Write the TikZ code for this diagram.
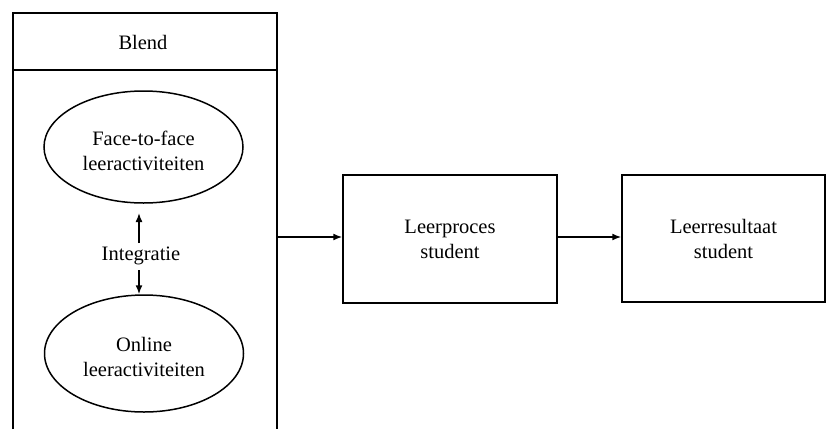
\documentclass[tikz,border=0pt]{standalone}
\usepackage{fontspec}
\setmainfont{Liberation Serif}
\usetikzlibrary{arrows.meta,shapes.geometric}
\begin{document}
\begin{tikzpicture}[x=1pt,y=-1pt,
  line width=1.5pt,
  txt/.style={font=\fontsize{20.5}{25}\selectfont, align=center, inner sep=0pt},
  oval/.style={draw, ellipse, minimum width=199pt, minimum height=112pt, txt},
  procbox/.style={draw, rectangle, txt},
  arr/.style={-{Latex[length=9pt,width=7pt]}}]
\useasboundingbox (0,0) rectangle (826,429);
% Blend container (open at the bottom)
\node[txt] (blend) at (143,42) {Blend};
\coordinate (bl) at (13,429);
\coordinate (tl) at (13,13);
\coordinate (tr) at (277,13);
\coordinate (br) at (277,429);
\coordinate (hl) at (13,70);
\coordinate (hr) at (277,70);
\draw (bl) -- (tl) -- (tr) -- (br);
\draw (hl) -- (hr);
% ellipses
\node[oval] (f2f) at (143.5,147) {};
\node[txt] (f2ftext) at (143.5,151) {Face-to-face\\leeractiviteiten};
\node[oval, minimum height=117pt] (online) at (144,353.5) {};
\node[txt] (onlinetext) at (144,357) {Online\\leeractiviteiten};
\node[txt] (integ) at (141,256) {Integratie};
\coordinate (upend) at (139,213);
\coordinate (upstart) at (139,243);
\coordinate (downstart) at (139,270);
\draw[arr] (upstart) -- (upend);
\draw[arr] (downstart) -- (online.north -| downstart);
% process boxes
\node[procbox, minimum width=214pt, minimum height=128pt] (proc) at (450,239) {Leerproces\\student};
\node[procbox, minimum width=203pt, minimum height=127pt] (res) at (723.5,238.5) {Leerresultaat\\student};
\coordinate (out) at (277,237);
\draw[arr] (out) -- (out -| proc.west);
\draw[arr] (proc.east |- out) -- (out -| res.west);
\end{tikzpicture}
\end{document}
